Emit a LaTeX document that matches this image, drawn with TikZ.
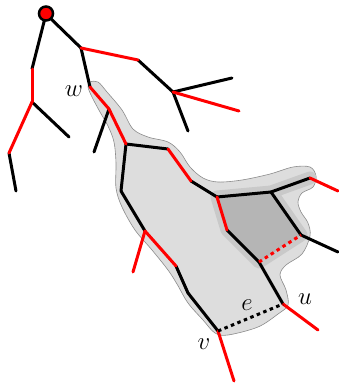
\documentclass[tikz,border=0pt]{standalone}
\definecolor{lightblob}{gray}{0.865}
\definecolor{halo}{gray}{0.79}
\definecolor{darkquad}{gray}{0.71}
\definecolor{rimgray}{gray}{0.55}
\definecolor{myred}{rgb}{1,0,0}
\begin{document}
\begin{tikzpicture}[x=1pt,y=-1pt,
  blk/.style={line width=3pt,line cap=round,line join=round},
  rd/.style={line width=3pt,myred,line cap=round,line join=round},
  dotblk/.style={line width=3pt,dash pattern=on 3.5pt off 3.5pt},
  dotrd/.style={line width=3pt,myred,dash pattern=on 3.5pt off 3.5pt},
  lbl/.style={font=\fontsize{23}{26}\selectfont, inner sep=0pt}]
\useasboundingbox (0,0) rectangle (338,386);
% coordinates
\coordinate (r) at (46,14);
\coordinate (a) at (32,69);
\coordinate (b) at (32,102);
\coordinate (c) at (69,137);
\coordinate (d) at (9,153);
\coordinate (f) at (16,191);
\coordinate (g) at (81,48);
\coordinate (h) at (138,60);
\coordinate (i) at (173,92);
\coordinate (j) at (232,78);
\coordinate (k) at (239,111);
\coordinate (l) at (188,131);
\coordinate (m) at (90,87);
\coordinate (n) at (109,109);
\coordinate (o) at (94,152);
\coordinate (p) at (126,144);
\coordinate (q) at (168,149);
\coordinate (s) at (191,181);
\coordinate (t) at (217,197);
\coordinate (x1) at (121,191);
\coordinate (x2) at (145,231);
\coordinate (x3) at (133,272);
\coordinate (x4) at (176,266);
\coordinate (x5) at (188,293);
\coordinate (v) at (218,331);
\coordinate (x6) at (234,381);
\coordinate (u) at (283,304);
\coordinate (u2) at (318,330);
\coordinate (y1) at (259,262);
\coordinate (y2) at (227,230);
\coordinate (z1) at (271,192);
\coordinate (z2) at (310,178);
\coordinate (z3) at (338,191);
\coordinate (z4) at (301,235);
\coordinate (z5) at (338,252);
% light blob
\draw[fill=lightblob, draw=rimgray, line width=0.6pt]
  plot[smooth cycle, tension=0.55] coordinates {
  (90,82) (98,82) (107,92) (122,110) (133,129) (148,137) (168,142)
  (180,152) (190,167) (203,178) (218,182) (242,180) (270,174) (293,167)
  (310,167) (316,176) (313,187) (302,193) (298,202) (301,212) (308,223)
  (310,236) (302,254) (286,265) (280,275) (286,290) (288,305) (278,314)
  (258,327) (228,335) (215,333) (203,320) (188,303) (177,284) (168,270)
  (152,250) (135,230) (122,207) (116,188) (116,163) (114,142) (108,126)
  (100,112) (92,97) (88,87)};
% halo around quad
\draw[halo, line width=13pt, line join=round, line cap=round, fill=halo]
  (t) -- (z1) -- (z4) -- (y1) -- (y2) -- cycle (z1) -- (z2);
\fill[darkquad] (t) -- (z1) -- (z4) -- (y1) -- (y2) -- cycle;
% black edges
\draw[blk] (r) -- (a);
\draw[blk] (r) -- (g);
\draw[blk] (b) -- (c);
\draw[blk] (d) -- (f);
\draw[blk] (g) -- (m);
\draw[blk] (h) -- (i);
\draw[blk] (i) -- (j);
\draw[blk] (i) -- (l);
\draw[blk] (n) -- (o);
\draw[blk] (p) -- (q);
\draw[blk] (s) -- (t);
\draw[blk] (p) -- (x1);
\draw[blk] (x1) -- (x2);
\draw[blk] (x4) -- (x5);
\draw[blk] (x5) -- (v);
\draw[blk] (u) -- (y1);
\draw[blk] (y1) -- (y2);
\draw[blk] (t) -- (z1);
\draw[blk] (z1) -- (z2);
\draw[blk] (z1) -- (z4);
\draw[blk] (z4) -- (z5);
% red edges
\draw[rd] (a) -- (b);
\draw[rd] (b) -- (d);
\draw[rd] (g) -- (h);
\draw[rd] (i) -- (k);
\draw[rd] (m) -- (n);
\draw[rd] (n) -- (p);
\draw[rd] (q) -- (s);
\draw[rd] (x2) -- (x3);
\draw[rd] (x2) -- (x4);
\draw[rd] (v) -- (x6);
\draw[rd] (u) -- (u2);
\draw[rd] (y2) -- (t);
\draw[rd] (z2) -- (z3);
% dotted edges
\draw[dotblk] (v) -- (u);
\draw[dotrd] (y1) -- (z4);
% root
\node[circle, fill=myred, draw=black, line width=2.5pt, minimum size=14pt, inner sep=0pt] (root) at (46,13.5) {};
% labels
\node[lbl] (lw) at (74,91) {$w$};
\node[lbl] (le) at (247,305) {$e$};
\node[lbl] (lu) at (305,299) {$u$};
\node[lbl] (lv) at (204,344) {$v$};
\end{tikzpicture}
\end{document}
